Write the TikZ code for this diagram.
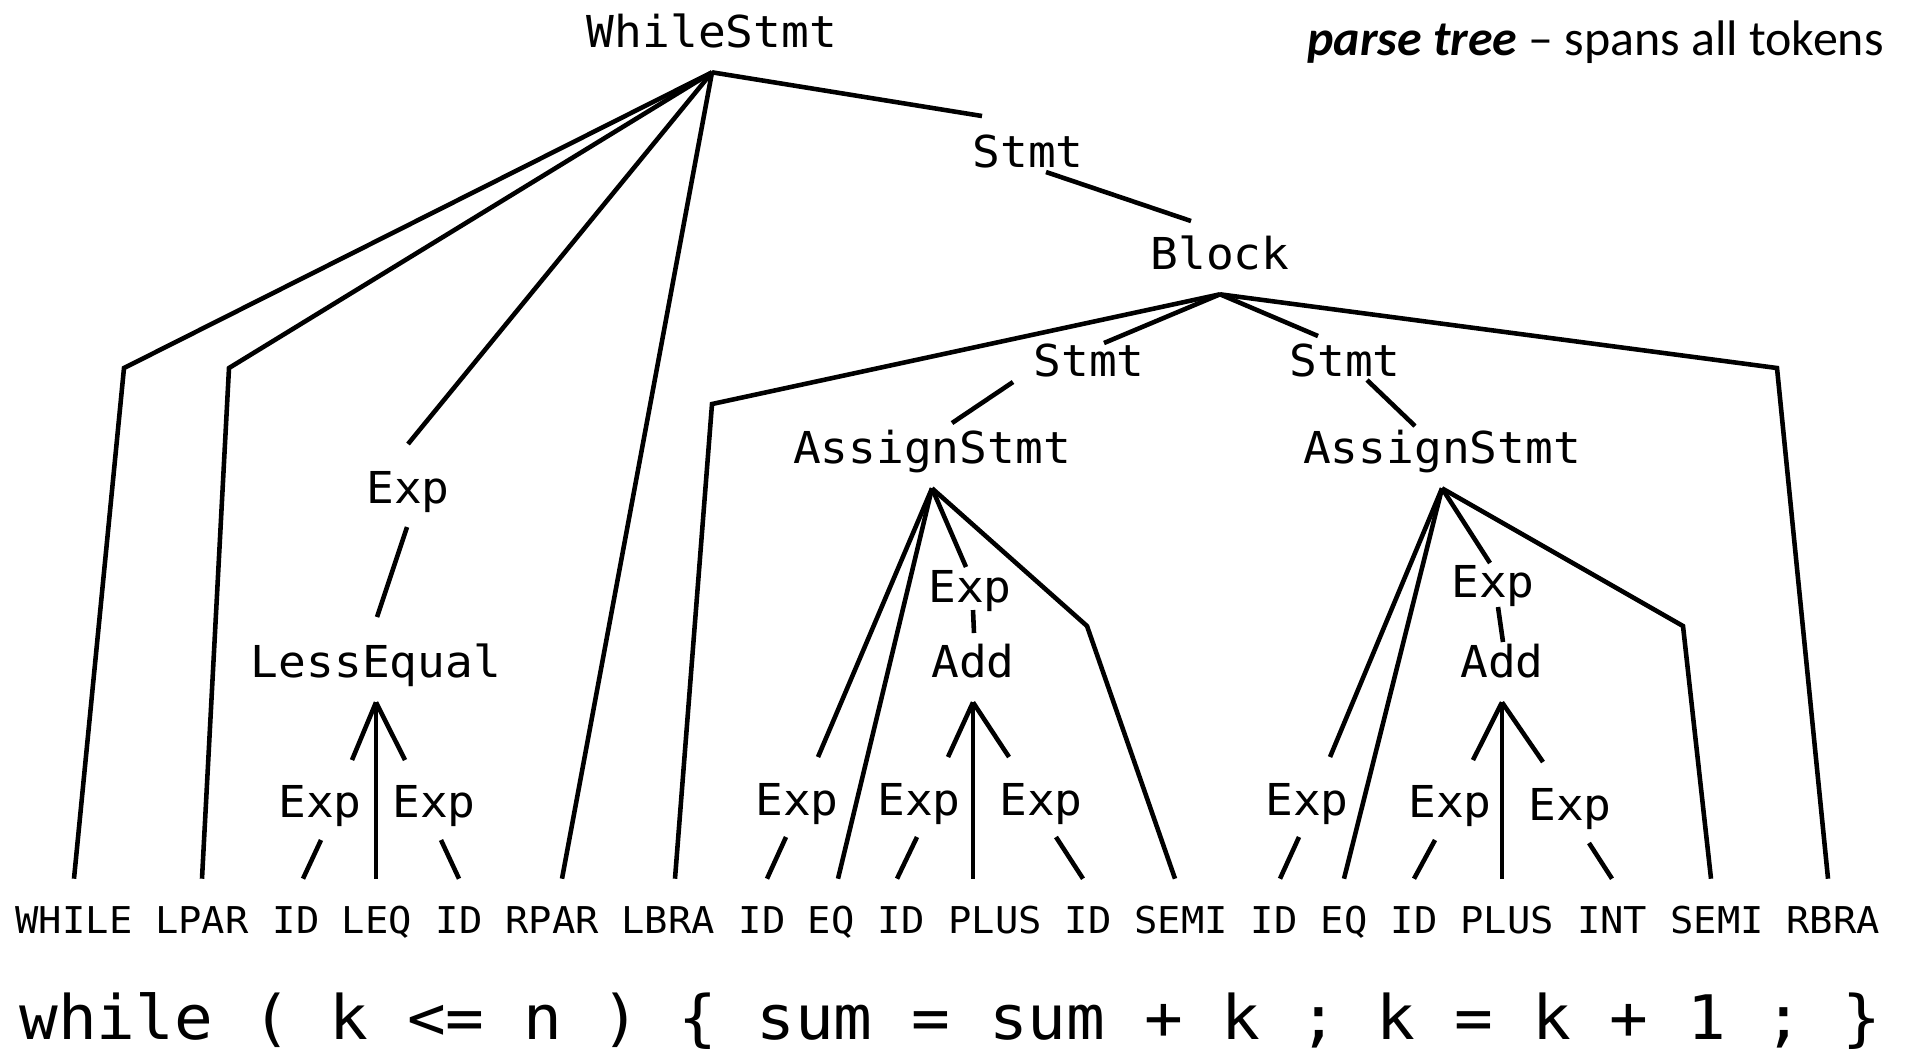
\documentclass[tikz,border=0pt]{standalone}
\usepackage{fontspec}
\newfontfamily\treefont[FakeStretch=1.05]{DejaVu Sans Mono}
\newfontfamily\notefont{Carlito}

\begin{document}
\begin{tikzpicture}[x=0.01cm,y=-0.01cm,line width=1.3pt,
        lbl/.style={anchor=base,inner xsep=0pt,inner ysep=0.12cm,text depth=0.11cm,
                    font=\treefont\fontsize{12.5}{15}\selectfont},
        tok/.style={anchor=base,inner xsep=0pt,inner ysep=0.25cm,text height=0.27cm,
                    font=\treefont\fontsize{10.5}{12}\selectfont}]

        \useasboundingbox (0,0) rectangle (1906,1050);

        \node[anchor=base east,inner sep=0pt,font=\notefont\fontsize{14.2}{17}\selectfont] (note) at (1886,55)
            {\textbf{\textit{parse tree}} – spans all tokens};

        % tree
        \node[lbl] (ws) at (712,47) {WhileStmt};
        \node[lbl] (st1) at (1028,167) {Stmt};
        \node[lbl] (blk) at (1220,269) {Block};
        \node[lbl] (st2) at (1089,376) {Stmt};
        \node[lbl] (st3) at (1345,376) {Stmt};
        \node[lbl] (as1) at (932,463) {AssignStmt};
        \node[lbl] (as2) at (1442,463) {AssignStmt};
        \node[lbl] (e0) at (408,503) {Exp};
        \node[lbl] (le) at (376,677) {LessEqual};
        \node[lbl] (el) at (320,817) {Exp};
        \node[lbl] (er) at (434,817) {Exp};
        \node[lbl] (em1) at (970,602) {Exp};
        \node[lbl] (add1) at (973,677) {Add};
        \node[lbl] (ea) at (797,815) {Exp};
        \node[lbl] (eb) at (919,815) {Exp};
        \node[lbl] (ec) at (1041,815) {Exp};
        \node[lbl] (em2) at (1493,597) {Exp};
        \node[lbl] (add2) at (1502,677) {Add};
        \node[lbl] (ed) at (1307,815) {Exp};
        \node[lbl] (ee) at (1450,817) {Exp};
        \node[lbl] (ef) at (1570,820) {Exp};

        % tokens
        \node[tok] (tW) at (74,933) {WHILE};
        \node[tok] (tLP) at (202,933) {LPAR};
        \node[tok] (tId1) at (296,933) {ID};
        \node[tok] (tLeq) at (377,933) {LEQ};
        \node[tok] (tId2) at (459,933) {ID};
        \node[tok] (tRP) at (552,933) {RPAR};
        \node[tok] (tLB) at (668,933) {LBRA};
        \node[tok] (tId3) at (762,933) {ID};
        \node[tok] (tEq1) at (831,933) {EQ};
        \node[tok] (tId4) at (901,933) {ID};
        \node[tok] (tPl1) at (995,933) {PLUS};
        \node[tok] (tId5) at (1088,933) {ID};
        \node[tok] (tSe1) at (1181,933) {SEMI};
        \node[tok] (tId6) at (1274,933) {ID};
        \node[tok] (tEq2) at (1344,933) {EQ};
        \node[tok] (tId7) at (1414,933) {ID};
        \node[tok] (tPl2) at (1507,933) {PLUS};
        \node[tok] (tInt) at (1612,933) {INT};
        \node[tok] (tSe2) at (1717,933) {SEMI};
        \node[tok] (tRB) at (1833,933) {RBRA};

        \node[anchor=base west,inner sep=0pt,font=\treefont\fontsize{17.45}{20}\selectfont] (src) at (17,1039)
            {while ( k <= n ) \{ sum = sum + k ; k = k + 1 ; \}};

        \coordinate (kW) at (124,368);
        \coordinate (kLP) at (229,368);
        \coordinate (kLB) at (712,404);
        \coordinate (kRB) at (1777,368);
        \coordinate (kS1) at (1087,626);
        \coordinate (kS2) at (1683,626);

        \draw (ws.south) -- (kW) -- (tW.north);
        \draw (ws.south) -- (kLP) -- (tLP.north);
        \draw (ws.south) -- ([shift={(0,-59)}]e0.base);
        \draw (ws.south) -- ([shift={(10,0)}]tRP.north);
        \draw (ws.south) -- ([shift={(-46,-51)}]st1.base);
        \draw ([shift={(18,5)}]st1.base) -- ([shift={(-29,-48)}]blk.base);

        \draw (blk.south) -- (kLB) -- ([shift={(7,0)}]tLB.north);
        \draw (blk.south) -- ([shift={(15,-33)}]st2.base);
        \draw (blk.south) -- ([shift={(-27,-40)}]st3.base);
        \draw (blk.south) -- (kRB) -- ([shift={(-5,0)}]tRB.north);
        \draw ([shift={(-76,6)}]st2.base) -- ([shift={(20,-40)}]as1.base);
        \draw ([shift={(22,4)}]st3.base) -- ([shift={(-27,-37)}]as2.base);

        \draw ([shift={(-1,24)}]e0.base) -- ([shift={(1,-60)}]le.base);
        \draw (le.south) -- ([shift={(32,-57)}]el.base);
        \draw (le.south) -- ([shift={(-29,-57)}]er.base);
        \draw (le.south) -- (le.south |- tLeq.north);
        \draw ([shift={(1,23)}]el.base) -- ([shift={(7,0)}]tId1.north);
        \draw ([shift={(7,23)}]er.base) -- (tId2.north);

        \draw (as1.south) -- ([shift={(21,-58)}]ea.base);
        \draw (as1.south) -- ([shift={(7,0)}]tEq1.north);
        \draw (as1.south) -- ([shift={(-4,-35)}]em1.base);
        \draw (as1.south) -- (kS1) -- ([shift={(-6,0)}]tSe1.north);
        \draw ([shift={(3,8)}]em1.base) -- ([shift={(1,-44)}]add1.base);
        \draw (add1.south) -- ([shift={(29,-58)}]eb.base);
        \draw (add1.south) -- ([shift={(-32,-58)}]ec.base);
        \draw (add1.south) -- (add1.south |- tPl1.north);
        \draw ([shift={(-11,22)}]ea.base) -- ([shift={(5,0)}]tId3.north);
        \draw ([shift={(-2,22)}]eb.base) -- ([shift={(-4,0)}]tId4.north);
        \draw ([shift={(15,22)}]ec.base) -- ([shift={(-5,0)}]tId5.north);

        \draw (as2.south) -- ([shift={(23,-58)}]ed.base);
        \draw (as2.south) -- (tEq2.north);
        \draw (as2.south) -- ([shift={(-3,-34)}]em2.base);
        \draw (as2.south) -- (kS2) -- ([shift={(-6,0)}]tSe2.north);
        \draw ([shift={(5,10)}]em2.base) -- ([shift={(1,-35)}]add2.base);
        \draw (add2.south) -- ([shift={(23,-57)}]ee.base);
        \draw (add2.south) -- ([shift={(-27,-58)}]ef.base);
        \draw (add2.south) -- (add2.south |- tPl2.north);
        \draw ([shift={(-8,22)}]ed.base) -- ([shift={(6,0)}]tId6.north);
        \draw ([shift={(-15,23)}]ee.base) -- (tId7.north);
        \draw ([shift={(19,23)}]ef.base) -- (tInt.north);

\end{tikzpicture}
\end{document}
